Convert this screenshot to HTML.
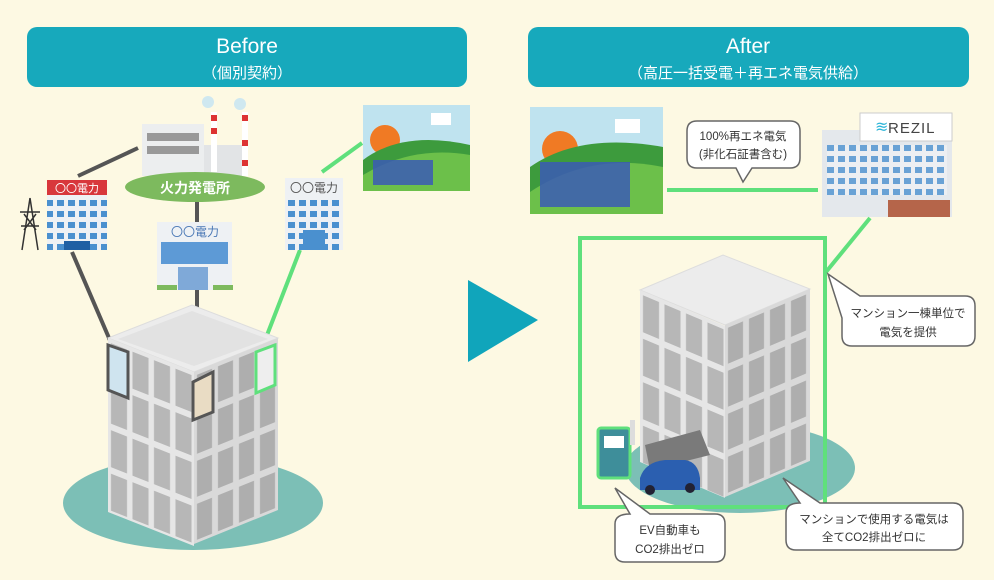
<!DOCTYPE html>
<html><head><meta charset="utf-8"><style>
body{margin:0;background:#fdf9e3;}
svg{display:block}
text{font-family:"Liberation Sans","Noto Sans CJK JP",sans-serif;}
</style></head><body>
<svg width="994" height="580" viewBox="0 0 994 580" xmlns="http://www.w3.org/2000/svg">
<defs>
<pattern id="winL" width="21.5" height="43.5" patternUnits="userSpaceOnUse"><rect width="21.5" height="43.5" fill="#e6e6e6"/><rect x="3" y="4" width="16" height="37" fill="#b7b7b7"/></pattern>
<pattern id="winR" width="21" height="43" patternUnits="userSpaceOnUse"><rect width="21" height="43" fill="#d9d9d9"/><rect x="3" y="4" width="15" height="36" fill="#aeaeae"/></pattern>
<pattern id="bw" width="11" height="11" patternUnits="userSpaceOnUse"><rect width="11" height="11" fill="#eef1f4"/><rect x="2" y="2" width="7" height="6" fill="#4a90cf"/></pattern>
</defs>
<rect width="994" height="580" fill="#fdf9e3"/>
<rect x="27" y="27" width="440" height="60" rx="10" fill="#17a9bc"/>
<text x="247" y="53" font-size="21" fill="#fff" text-anchor="middle">Before</text>
<text x="247" y="78" font-size="15" fill="#fff" text-anchor="middle">（個別契約）</text>
<rect x="528" y="27" width="441" height="60" rx="10" fill="#17a9bc"/>
<text x="748" y="53" font-size="21" fill="#fff" text-anchor="middle">After</text>
<text x="748" y="78" font-size="15" fill="#fff" text-anchor="middle">（高圧一括受電＋再エネ電気供給）</text>
<polygon points="468,280 538,320 468,362" fill="#10a5bb"/>

<ellipse cx="193" cy="503" rx="130" ry="47" fill="#7cbfb6"/>
<line x1="78" y1="176" x2="138" y2="148" stroke="#555" stroke-width="4"/>
<line x1="197" y1="200" x2="197" y2="224" stroke="#555" stroke-width="4"/>
<line x1="72" y1="252" x2="112" y2="345" stroke="#555" stroke-width="4"/>
<line x1="197" y1="290" x2="197" y2="372" stroke="#555" stroke-width="4"/>
<line x1="300" y1="250" x2="262" y2="348" stroke="#5fe07c" stroke-width="4"/>
<line x1="322" y1="172" x2="362" y2="143" stroke="#5fe07c" stroke-width="4"/>
<polygon points="108,338 192,305 278,338 194,372" fill="#ececec" stroke="#ddd"/>
<polygon points="118,339 192,311 268,339 194,366" fill="#e2e2e2"/>
<g transform="matrix(1,0.3953,0,1,108,338)"><rect width="86" height="174" fill="url(#winL)"/></g>
<g transform="matrix(1,-0.4048,0,1,194,372)"><rect width="84" height="172" fill="url(#winR)"/></g>
<polygon points="108,345 128,352 128,398 108,390" fill="#cfe4ef" stroke="#555" stroke-width="3"/>
<polygon points="193,382 213,372 213,412 193,420" fill="#e9dcc4" stroke="#555" stroke-width="3"/>
<polygon points="256,352 275,345 275,385 256,393" fill="#eee" stroke="#5fe07c" stroke-width="3"/>
<rect x="142" y="124" width="62" height="52" fill="#eceeef"/>
<rect x="147" y="133" width="52" height="8" fill="#999"/><rect x="147" y="146" width="52" height="8" fill="#999"/>
<rect x="204" y="145" width="40" height="31" fill="#e2e4e6"/>
<rect x="211" y="112" width="6" height="60" fill="#fff"/><rect x="211" y="115" width="6" height="6" fill="#d33"/><rect x="211" y="128" width="6" height="6" fill="#d33"/>
<rect x="242" y="112" width="6" height="64" fill="#fff"/><rect x="242" y="115" width="6" height="6" fill="#d33"/><rect x="242" y="140" width="6" height="6" fill="#d33"/><rect x="242" y="160" width="6" height="6" fill="#d33"/>
<circle cx="208" cy="102" r="6" fill="#cfe8f0"/><circle cx="240" cy="104" r="6" fill="#cfe8f0"/>
<ellipse cx="195" cy="187" rx="70" ry="15" fill="#7dba5e"/>
<text x="195" y="193" font-size="14" font-weight="bold" fill="#fff" text-anchor="middle">火力発電所</text>
<rect x="47" y="180" width="60" height="70" fill="url(#bw)"/>
<rect x="47" y="180" width="60" height="15" fill="#d8373c"/>
<text x="77" y="192" font-size="11" fill="#fff" text-anchor="middle">〇〇電力</text>
<rect x="64" y="241" width="26" height="9" fill="#1f5fa3"/>
<path d="M30 198 L22 250 M30 198 L38 250 M20 212 H40 M21 226 H39 M24 214 L36 230 M36 214 L24 230" stroke="#333" stroke-width="1.5" fill="none"/>
<rect x="157" y="222" width="75" height="68" fill="#eef1f4"/>
<text x="195" y="236" font-size="12" fill="#4a78b5" text-anchor="middle">〇〇電力</text>
<rect x="161" y="242" width="67" height="22" fill="#5d9ad6"/>
<rect x="178" y="267" width="30" height="23" fill="#7fa9d8"/>
<rect x="157" y="285" width="20" height="5" fill="#7dba5e"/><rect x="213" y="285" width="20" height="5" fill="#7dba5e"/>
<rect x="285" y="178" width="58" height="72" fill="url(#bw)"/>
<rect x="285" y="178" width="58" height="17" fill="#eef1f4"/>
<text x="314" y="192" font-size="12" fill="#555" text-anchor="middle">〇〇電力</text>
<rect x="303" y="230" width="22" height="20" fill="#4a90cf"/>
<g transform="translate(363,105)">
<rect width="107" height="86" fill="#bfe3ef"/>
<circle cx="22" cy="35" r="15" fill="#f07a24"/>
<path d="M0 55 Q40 25 107 40 V86 H0Z" fill="#3d9b3d"/>
<path d="M0 70 Q50 40 107 50 V86 H0Z" fill="#6cc04a"/>
<rect x="10" y="55" width="60" height="25" fill="#3b5bb5" opacity="0.85"/>
<rect x="68" y="8" width="20" height="12" fill="#fff"/>
</g>
<g transform="translate(530,107)">
<rect width="133" height="107" fill="#bfe3ef"/>
<circle cx="30" cy="42" r="18" fill="#f07a24"/>
<path d="M0 60 Q50 25 133 40 V107 H0Z" fill="#3d9b3d"/>
<path d="M0 85 Q60 45 133 60 V107 H0Z" fill="#6cc04a"/>
<rect x="10" y="55" width="90" height="45" fill="#3b5bb5" opacity="0.85"/>
<rect x="85" y="12" width="25" height="14" fill="#fff"/>
</g>
<line x1="667" y1="190" x2="818" y2="190" stroke="#5fe07c" stroke-width="4"/>
<rect x="822" y="130" width="130" height="87" fill="#e4e8ec"/>
<rect x="827" y="145" width="120" height="50" fill="url(#bw)" opacity="0.8"/>
<rect x="888" y="200" width="62" height="17" fill="#b5654a"/>
<rect x="860" y="113" width="92" height="28" fill="#fff" stroke="#ccc"/>
<text x="875" y="132" font-size="16" fill="#2bb5d8">≋</text>
<text x="888" y="133" font-size="15" fill="#444" letter-spacing="1">REZIL</text>
<path d="M697 121 H790 Q800 121 800 131 V158 Q800 168 790 168 H752 L743 182 L736 168 H697 Q687 168 687 158 V131 Q687 121 697 121Z" fill="#fff" stroke="#666" stroke-width="1.5"/>
<text x="743" y="140" font-size="11.5" fill="#333" text-anchor="middle">100%再エネ電気</text>
<text x="743" y="158" font-size="11.5" fill="#333" text-anchor="middle">(非化石証書含む)</text>
<ellipse cx="740" cy="468" rx="115" ry="45" fill="#7cbfb6"/>
<line x1="870" y1="218" x2="826" y2="272" stroke="#5fe07c" stroke-width="4"/>
<polygon points="640,290 723,255 810,289 725,325" fill="#ececec" stroke="#ddd"/>
<g transform="matrix(1,0.4217,0,1,640,290)"><rect width="85" height="172" fill="url(#winL)"/></g>
<g transform="matrix(1,-0.4253,0,1,725,325)"><rect width="85" height="172" fill="url(#winR)"/></g>
<polygon points="645,445 700,430 710,455 650,470" fill="#7a7a7a"/>
<rect x="580" y="238" width="245" height="269" fill="none" stroke="#5fe07c" stroke-width="4"/>
<rect x="598" y="428" width="32" height="50" rx="3" fill="#3e8e9a" stroke="#5fe07c" stroke-width="3"/>
<rect x="604" y="436" width="20" height="12" fill="#fff"/>
<rect x="630" y="420" width="5" height="25" fill="#ddd"/>
<path d="M640 478 Q645 462 665 460 H685 Q698 462 700 478 L700 490 H640Z" fill="#2b5fb0"/>
<circle cx="650" cy="490" r="5" fill="#223"/><circle cx="690" cy="488" r="5" fill="#223"/>
<path d="M860 296 H965 Q975 296 975 306 V336 Q975 346 965 346 H852 Q842 346 842 336 V318 L828 274 Z" fill="#fff" stroke="#666" stroke-width="1.5"/>
<text x="908" y="317" font-size="11.5" fill="#333" text-anchor="middle">マンション一棟単位で</text>
<text x="908" y="336" font-size="11.5" fill="#333" text-anchor="middle">電気を提供</text>
<path d="M783 478 L820 503 H953 Q963 503 963 513 V540 Q963 550 953 550 H796 Q786 550 786 540 V513 Q786 503 800 503 Z" fill="#fff" stroke="#666" stroke-width="1.5"/>
<text x="874" y="523" font-size="11.5" fill="#333" text-anchor="middle">マンションで使用する電気は</text>
<text x="874" y="541" font-size="11.5" fill="#333" text-anchor="middle">全てCO2排出ゼロに</text>
<path d="M615 488 L650 514 H715 Q725 514 725 524 V552 Q725 562 715 562 H625 Q615 562 615 552 V524 Q615 514 630 514 Z" fill="#fff" stroke="#666" stroke-width="1.5"/>
<text x="670" y="534" font-size="11.5" fill="#333" text-anchor="middle">EV自動車も</text>
<text x="670" y="553" font-size="11.5" fill="#333" text-anchor="middle">CO2排出ゼロ</text>
</svg>
</body></html>
